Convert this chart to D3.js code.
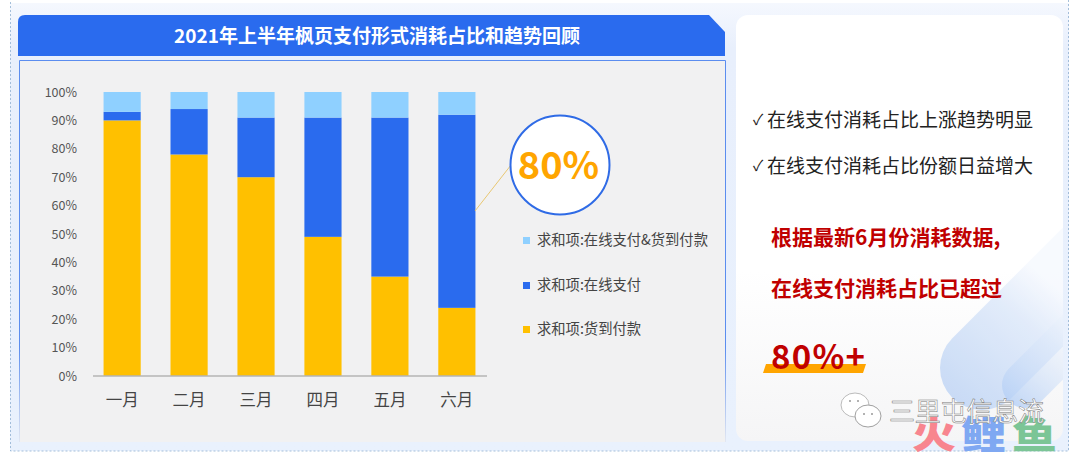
<!DOCTYPE html>
<html><head><meta charset="utf-8">
<script src="https://cdn.jsdelivr.net/npm/d3@7/dist/d3.min.js"></script>
<style>html,body{margin:0;padding:0;background:#fff}svg{display:block}text{font-family:"Noto Sans CJK SC","Open Sans",sans-serif}</style>
</head><body><svg id="c" width="1080" height="460"></svg>
<script>
const categories = ["一月","二月","三月","四月","五月","六月"];
const seriesNames = ["求和项:货到付款","求和项:在线支付","求和项:在线支付&货到付款"];
const cod = [90,78,70,49,35,24];
const online = [3,16,21,42,56,68];
const both = [7,6,9,9,9,8];
const colors = ["#FFC000","#2A6BEE","#8FD0FF"];
const legendOrder = [2,1,0];
const tickValues = [0,10,20,30,40,50,60,70,80,90,100];
const title = "2021年上半年枫页支付形式消耗占比和趋势回顾";
const bullets = ["在线支付消耗占比上涨趋势明显","在线支付消耗占比份额日益增大"];
const notes = ["根据最新6月份消耗数据,","在线支付消耗占比已超过"];
const svg = d3.select("#c");
const defs = svg.append("defs");
function grad(id,x1,y1,x2,y2,stops,user){
  const g=defs.append("linearGradient").attr("id",id).attr("x1",x1).attr("y1",y1).attr("x2",x2).attr("y2",y2);
  if(user) g.attr("gradientUnits","userSpaceOnUse");
  stops.forEach(s=>{g.append("stop").attr("offset",s[0]).attr("stop-color",s[1]).attr("stop-opacity",s[2]===undefined?1:s[2]);});
}
grad("bg",0,0,0,1,[[0,"#F5F8FE"],[.1,"#E8EFFC"],[1,"#E9F1FD"]]);
grad("pg",0,0,0,1,[[0,"#FFFFFF"],[.6,"#FFFFFF"],[1,"#F5F5F6"]]);
grad("edge",0,61,0,442,[[0,"#5B8DEF"],[.75,"#5B8DEF"],[1,"#5B8DEF",.1]],true);
grad("s1",960,410,1060,290,[[0,"#BCD3F5"],[.7,"#DCE8FA"],[1,"#F6F9FE"]],true);
grad("s2",1010,400,1070,330,[[0,"#B7D1F6"],[1,"#E6EFFB",.3]],true);
defs.append("clipPath").attr("id","pc").append("rect").attr("x",736).attr("y",15).attr("width",327).attr("height",426).attr("rx",12);

// page
svg.append("rect").attr("x",10).attr("y",3).attr("width",1059).attr("height",448).attr("fill","url(#bg)");
svg.append("rect").attr("x",10.5).attr("y",-10).attr("width",1058).attr("height",461).attr("fill","none").attr("stroke","#8FB0D0").attr("stroke-dasharray","2 2").attr("stroke-width",.8);

// title banner
svg.append("path").attr("d","M18 56V22Q18 15 25 15H709L725 32V56Z").attr("fill","#2A6BEE");
svg.append("text").attr("x",377).attr("y",43).attr("text-anchor","middle").attr("fill","#fff").attr("font-size",19).attr("font-weight",700).text(title);

// chart panel
svg.append("rect").attr("x",19).attr("y",61).attr("width",707).attr("height",381).attr("fill","#F1F1F2");
svg.append("path").attr("d","M19.5 442V60.5H725.5V442").attr("fill","none").attr("stroke","url(#edge)").attr("stroke-width",1);

// scales
const x = d3.scaleBand().domain(categories).range([88.5,490.5]).paddingInner(0.445).paddingOuter(0.225);
const y = d3.scaleLinear().domain([0,100]).range([376,92]);
const stacked = d3.stack().keys([0,1,2]).value((d,k)=>d[k])(categories.map((c,i)=>{return {0:cod[i],1:online[i],2:both[i],c};}));
svg.append("g").selectAll("g").data(stacked).join("g").attr("fill",(d,i)=>colors[i])
  .selectAll("rect").data(d=>d).join("rect")
  .attr("x",d=>x(d.data.c)).attr("width",x.bandwidth())
  .attr("y",d=>y(d[1])).attr("height",d=>y(d[0])-y(d[1]));

const ya = svg.append("g").attr("transform","translate(77,0)").call(d3.axisLeft(y).tickValues(tickValues).tickFormat(d=>d+"%").tickSize(0).tickPadding(0));
ya.select(".domain").remove();
ya.selectAll("text").attr("fill","#555").attr("font-size",12.5).attr("font-family","'Open Sans',sans-serif");
const xa = svg.append("g").attr("transform","translate(0,376)").call(d3.axisBottom(x).tickSize(0).tickPadding(18));
xa.select(".domain").attr("stroke","#B5B5B5").attr("stroke-width",1.5).attr("d","M93 0H487");
xa.selectAll("text").attr("fill","#444").attr("font-size",16.5);

// callout
svg.append("line").attr("x1",475).attr("y1",211).attr("x2",511).attr("y2",165).attr("stroke","#E8C772").attr("stroke-width",1);
svg.append("circle").attr("cx",560).attr("cy",165).attr("r",49.5).attr("fill","#fff").attr("stroke","#2F6BE6").attr("stroke-width",2);
svg.append("text").attr("x",558.5).attr("y",179).attr("text-anchor","middle").attr("fill","#FFA500").attr("font-size",38).attr("font-weight",700).attr("font-family","'Open Sans',sans-serif").text("80%");

// legend
const legY = [240,285,329];
legendOrder.forEach((s,i)=>{
  svg.append("rect").attr("x",523).attr("y",legY[i]-3).attr("width",7).attr("height",7).attr("fill",colors[s]);
  svg.append("text").attr("x",537).attr("y",legY[i]+5).attr("fill","#444").attr("font-size",14.3).text(seriesNames[s]);
});

// right panel
svg.append("rect").attr("x",736).attr("y",15).attr("width",327).attr("height",426).attr("rx",12).attr("fill","url(#pg)");
const deco = svg.append("g").attr("clip-path","url(#pc)");
deco.append("line").attr("x1",982).attr("y1",368).attr("x2",1090).attr("y2",260).attr("stroke","url(#s1)").attr("stroke-width",84).attr("stroke-linecap","round").attr("opacity",.8);
deco.append("line").attr("x1",1025).attr("y1",385).attr("x2",1090).attr("y2",320).attr("stroke","url(#s2)").attr("stroke-width",46).attr("stroke-linecap","round").attr("opacity",.8);

bullets.forEach((t,i)=>{
  const yy=[127,173][i];
  svg.append("text").attr("x",753).attr("y",yy-2).attr("fill","#222").attr("font-size",15).text("✓").attr("font-family","'DejaVu Sans'");
  svg.append("text").attr("x",767).attr("y",yy).attr("fill","#222").attr("font-size",19).text(t);
});
notes.forEach((t,i)=>{
  svg.append("text").attr("x",771).attr("y",[245,296][i]).attr("fill","#C00000").attr("font-size",21).attr("font-weight",700).text(t);
});
svg.append("path").attr("d","M766 364H866L863 373H763Z").attr("fill","#FFA500");
svg.append("text").attr("x",771).attr("y",369).attr("fill","#C00000").attr("font-size",33).attr("font-weight",700).attr("font-family","'Open Sans',sans-serif").attr("textLength",94).text("80%+");

// watermark
const wm = svg.append("g");
wm.append("text").attr("x",912).attr("y",448).attr("fill","#F8858F").attr("font-size",38).attr("font-weight",900).attr("textLength",44).attr("lengthAdjust","spacingAndGlyphs").text("火");
wm.append("text").attr("x",961).attr("y",448).attr("fill","#7FA8F2").attr("font-size",38).attr("font-weight",900).attr("textLength",45).attr("lengthAdjust","spacingAndGlyphs").text("鲤");
wm.append("text").attr("x",1012).attr("y",448).attr("fill","#7CC596").attr("font-size",38).attr("font-weight",900).attr("textLength",45).attr("lengthAdjust","spacingAndGlyphs").text("鱼");
wm.append("ellipse").attr("cx",855).attr("cy",405).attr("rx",14).attr("ry",12).attr("fill","#fff").attr("stroke","#aaa").attr("stroke-width",.8);
wm.append("ellipse").attr("cx",868).attr("cy",416).attr("rx",13).attr("ry",11).attr("fill","#fff").attr("stroke","#888").attr("stroke-width",.8);
[[850,401],[858,401],[864,414],[872,414]].forEach(p=>wm.append("circle").attr("cx",p[0]).attr("cy",p[1]).attr("r",1).attr("fill","#999"));
wm.append("text").attr("x",889).attr("y",421).attr("fill","#fff").attr("stroke","#777").attr("stroke-width",.5).attr("font-size",26).attr("textLength",155).text("三里屯信息流");
</script></body></html>
